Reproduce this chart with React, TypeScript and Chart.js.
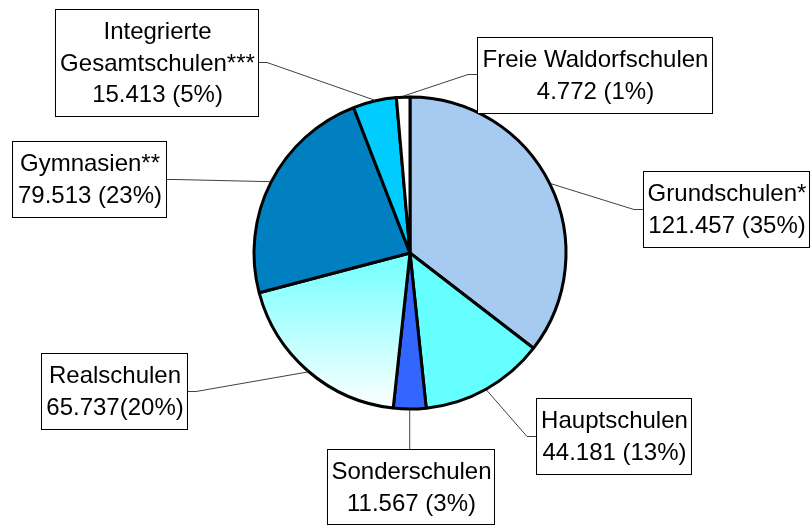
import React, { useEffect, useRef } from "react";
import { Chart, registerables } from "chart.js";

Chart.register(...registerables);

// ---- data ----
const categories = [
  "Grundschulen*",
  "Hauptschulen",
  "Sonderschulen",
  "Realschulen",
  "Gymnasien**",
  "Integrierte Gesamtschulen***",
  "Freie Waldorfschulen",
];
const values = [121457, 44181, 11567, 65737, 79513, 15413, 4772];
const titleLines = [
  ["Grundschulen*"],
  ["Hauptschulen"],
  ["Sonderschulen"],
  ["Realschulen"],
  ["Gymnasien**"],
  ["Integrierte", "Gesamtschulen***"],
  ["Freie Waldorfschulen"],
];
const valueLines = [
  "121.457 (35%)",
  "44.181 (13%)",
  "11.567 (3%)",
  "65.737(20%)",
  "79.513 (23%)",
  "15.413 (5%)",
  "4.772 (1%)",
];
const sliceColors = ["#A6CAF0", "#66FFFF", "#3366FF", "gradient", "#0080C0", "#00CCFF", "#FFFFFF"];

// ---- label box layout (x, y, w, h, side where leader attaches) ----
const boxLayout = [
  { x: 643, y: 171, w: 166, h: 76, side: "left", ay: 209 },
  { x: 536, y: 398, w: 155, h: 76, side: "left", ay: 436 },
  { x: 327, y: 449, w: 167, h: 75, side: "top", ay: 0 },
  { x: 41, y: 353, w: 146, h: 76, side: "right", ay: 391 },
  { x: 12, y: 141, w: 154, h: 76, side: "right", ay: 179 },
  { x: 55, y: 9, w: 203, h: 107, side: "right", ay: 62 },
  { x: 477, y: 37, w: 235, h: 76, side: "left", ay: 74 },
];

const FONT = '24px "Liberation Sans", Arial, sans-serif';
const PIE_RADIUS = 156;

const labelPlugin = {
  id: "boxLabels",
  afterDraw(chart: any) {
    const ctx = chart.ctx as CanvasRenderingContext2D;
    const meta = chart.getDatasetMeta(0);
    ctx.save();
    meta.data.forEach((arc: any, i: number) => {
      const b = boxLayout[i];
      const mid = (arc.startAngle + arc.endAngle) / 2;
      const r = arc.outerRadius + 1;
      const px = arc.x + Math.cos(mid) * r;
      const py = arc.y + Math.sin(mid) * r;
      // leader line
      ctx.strokeStyle = "#404040";
      ctx.lineWidth = 1;
      ctx.beginPath();
      if (b.side === "top") {
        ctx.moveTo(px, py);
        ctx.lineTo(px, b.y);
      } else {
        const ex = b.side === "left" ? b.x : b.x + b.w;
        const elbow = b.side === "left" ? ex - 9 : ex + 9;
        ctx.moveTo(px, py);
        ctx.lineTo(elbow, b.ay + 0.5);
        ctx.lineTo(ex, b.ay + 0.5);
      }
      ctx.stroke();
      // box
      ctx.fillStyle = "#FFFFFF";
      ctx.fillRect(b.x, b.y, b.w, b.h);
      ctx.strokeStyle = "#000000";
      ctx.lineWidth = 1;
      ctx.strokeRect(b.x + 0.5, b.y + 0.5, b.w, b.h);
      // text
      const lines = [...titleLines[i], valueLines[i]];
      ctx.fillStyle = "#000000";
      ctx.font = FONT;
      ctx.textAlign = "center";
      ctx.textBaseline = "alphabetic";
      lines.forEach((t, k) => {
        ctx.fillText(t, b.x + b.w / 2 + 1, b.y + 30 + k * 31.5);
      });
    });
    ctx.restore();
  },
};

export default function App() {
  const ref = useRef<HTMLCanvasElement | null>(null);
  useEffect(() => {
    document.body.style.margin = "0";
    const canvas = ref.current;
    if (!canvas) return;
    const chart = new Chart(canvas, {
      type: "pie",
      data: {
        labels: categories,
        datasets: [
          {
            data: values,
            backgroundColor: (c: any) => {
              const col = sliceColors[c.dataIndex];
              if (col !== "gradient") return col;
              const area = c.chart.chartArea;
              if (!area) return "#B0FFFF";
              const cy = (area.top + area.bottom) / 2;
              const g = c.chart.ctx.createLinearGradient(0, cy, 0, cy + PIE_RADIUS);
              g.addColorStop(0, "#70FFFF");
              g.addColorStop(1, "#FFFFFF");
              return g;
            },
            borderColor: "#000000",
            borderWidth: 3,
            radius: PIE_RADIUS,
          } as any,
        ],
      },
      options: {
        responsive: false,
        animation: false,
        rotation: 0,
        layout: { padding: { left: 10, right: 0, top: 0, bottom: 19 } },
        plugins: {
          legend: { display: false },
          tooltip: { enabled: false },
          title: { display: false },
        },
      },
      plugins: [labelPlugin],
    });
    return () => chart.destroy();
  }, []);
  return (
    <div style={{ width: 810, height: 525, background: "#fff" }}>
      <canvas ref={ref} width={810} height={525} style={{ display: "block" }} />
    </div>
  );
}
